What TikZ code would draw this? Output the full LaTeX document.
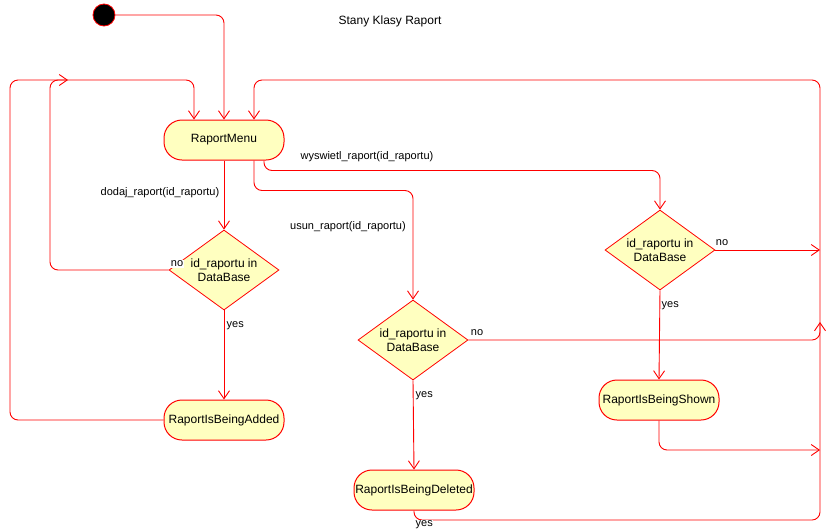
\documentclass[tikz,border=0pt]{standalone}
\usepackage{fontspec}
\setmainfont{Liberation Sans}
\usetikzlibrary{shapes.geometric,arrows.meta}
\definecolor{umlred}{HTML}{FF0000}
\definecolor{umlfill}{HTML}{FFFFC0}
\begin{document}
\begin{tikzpicture}[x=1pt,y=-1pt,
    state/.style={draw=umlred, fill=umlfill, line width=1pt, rounded corners=18pt,
        minimum width=120pt, minimum height=40pt, inner sep=1pt, font=\fontsize{12}{14}\selectfont},
    choice/.style={diamond, draw=umlred, fill=umlfill, line width=0.8pt, aspect=1.375,
        minimum width=110pt, minimum height=80pt, inner sep=0pt, align=center,
        font=\fontsize{12}{14}\selectfont},
    flow/.style={draw=umlred, line width=0.9pt, rounded corners=8pt,
        -{Straight Barb[length=8pt,width=11pt]}},
    lbl/.style={font=\fontsize{11}{13}\selectfont, inner sep=0.5pt}]
    \useasboundingbox (0,0) rectangle (830,531);

    % title
    \node[font=\fontsize{12}{14}\selectfont] (title) at (390,21) {Stany Klasy Raport};

    % states
    \node[circle, fill=black, draw=umlred, line width=0.8pt, minimum size=22pt, inner sep=0pt] (start) at (104,15) {};
    \node[state] (menu) at (224,140) {RaportMenu};
    \node[choice] (d1) at (224,270) {id\_raportu in\\DataBase};
    \node[choice] (d2) at (413,340) {id\_raportu in\\DataBase};
    \node[choice] (d3) at (660,250) {id\_raportu in\\DataBase};
    \node[state] (added) at (224,420) {RaportIsBeingAdded};
    \node[state] (deleted) at (414,490) {RaportIsBeingDeleted};
    \node[state] (shown) at (659,400) {RaportIsBeingShown};
    \coordinate (backin) at (68,80);

    % transitions
    \draw[flow] (start.east) -| (menu.north);
    \draw[flow] (menu.south) -- (d1.north);
    \draw[flow] ([xshift=30pt]menu.south) -- ++(0,30) -| (d2.north);
    \draw[flow] ([xshift=40pt]menu.south) -- ++(0,10) -| (d3.north);

    \draw[flow] (d1.west) -| (50,80) -- (backin);
    \draw[flow] (added.west) -| (10,80) -| ([xshift=-30pt]menu.north);
    \draw[flow] (d1.south) -- (added.north);

    \draw[flow] (d2.east) -| (820,322);
    \draw[flow] (d2.south) -- (deleted.north);
    \draw[flow] (d3.east) -- (820,250);
    \draw[flow] (d3.south) -- (shown.north);
    \draw[flow] (shown.south) |- (820,450);
    \draw[flow] (deleted.south) |- (820,520) -- (820,80) -| ([xshift=30pt]menu.north);

    % guards
    \node[lbl, anchor=east] (lbladd) at (220,193) {dodaj\_raport(id\_raportu)};
    \node[lbl] (lbldel) at (348,227) {usun\_raport(id\_raportu)};
    \node[lbl] (lblshow) at (367,157) {wyswietl\_raport(id\_raportu)};
    \node[lbl, fill=white] (no1) at (177,264) {no};
    \node[lbl, anchor=west] (yes1) at (226,326) {yes};
    \node[lbl] (no2) at (477,333) {no};
    \node[lbl, anchor=west] (yes2) at (415,396) {yes};
    \node[lbl] (no3) at (722,243) {no};
    \node[lbl, anchor=west] (yes3) at (661,306) {yes};
    \node[lbl, fill=white, anchor=west] (yes4) at (415,525) {yes};

\end{tikzpicture}
\end{document}
